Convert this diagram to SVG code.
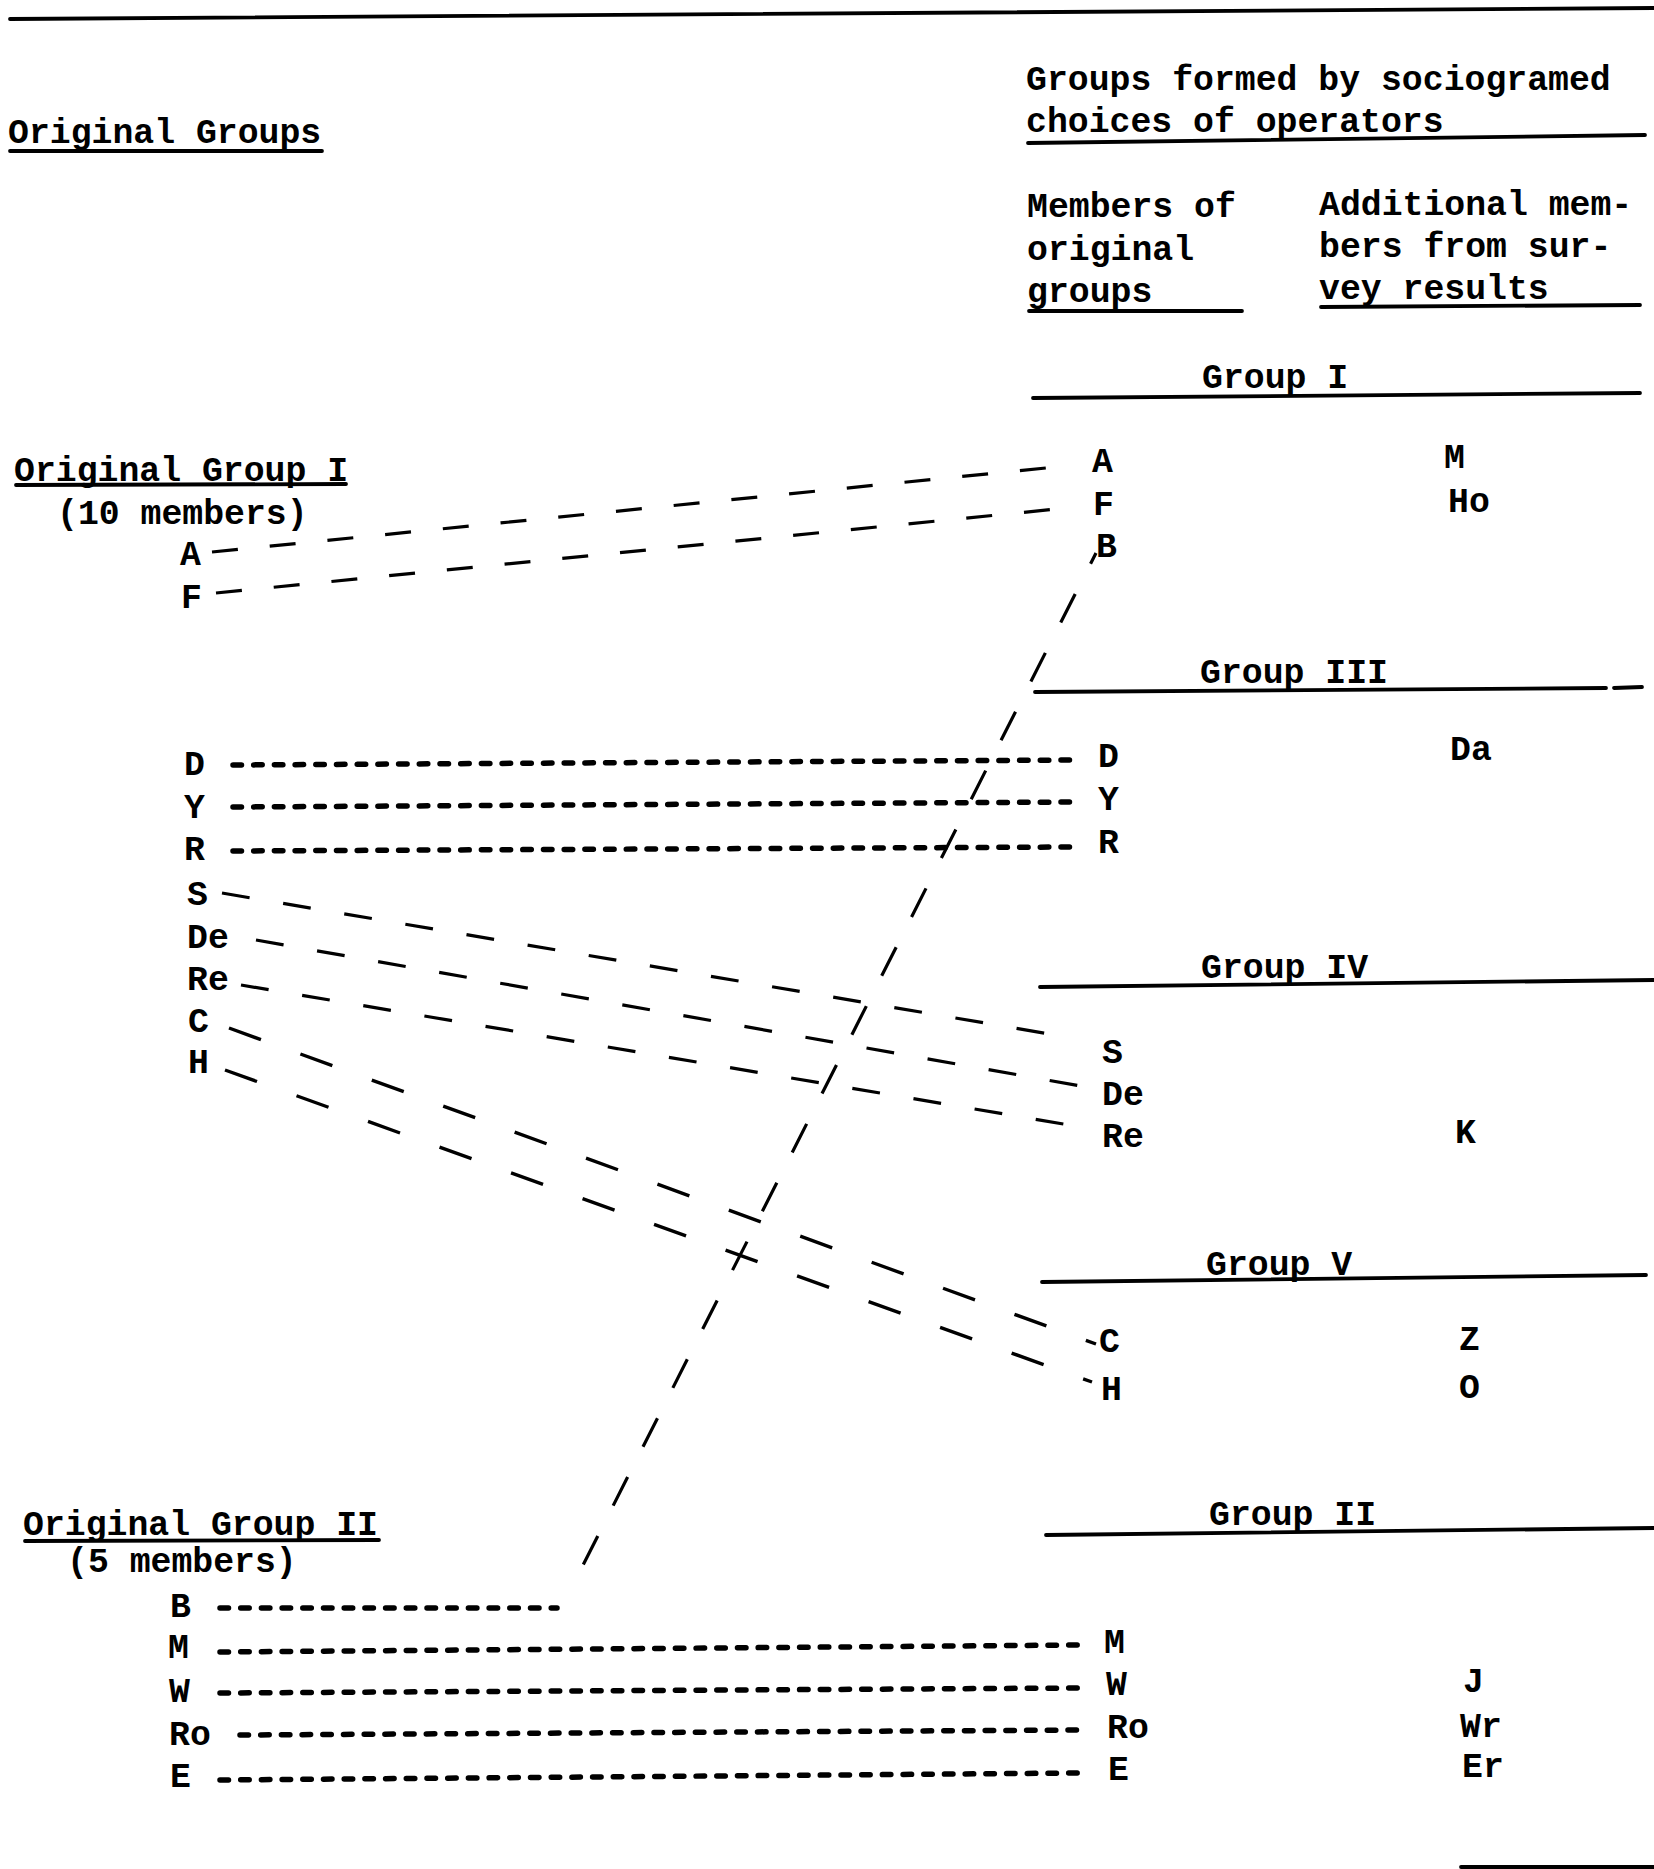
<svg xmlns="http://www.w3.org/2000/svg" width="1654" height="1869" viewBox="0 0 1654 1869">
<style>
text{font-family:"Liberation Mono","Courier New",monospace;font-size:34.8px;font-weight:bold;fill:#000}
.rule{stroke:#000;stroke-width:3.8;fill:none;stroke-linecap:round}
.dense{stroke:#000;stroke-width:5.5;stroke-linecap:round;stroke-dasharray:8.5 12.2;fill:none}
.long{stroke:#000;stroke-width:3.2;stroke-dasharray:26 32;fill:none}
.slant{stroke:#000;stroke-width:3.2;stroke-dasharray:28 34;fill:none}
.steep{stroke:#000;stroke-width:3.4;stroke-dasharray:34 42;fill:none}
.diag{stroke:#000;stroke-width:3.2;stroke-dasharray:32 34;fill:none}
</style>
<rect width="1654" height="1869" fill="#fff"/>
<g id="frame">
<line class="rule" x1="10" y1="19" x2="1654" y2="8" stroke-width="4.5"/>
<line class="rule" x1="1461" y1="1867" x2="1654" y2="1867" stroke-width="3"/>
</g>
<g id="header-left">
<text x="8" y="143">Original Groups</text>
<line class="rule" x1="10" y1="151" x2="322" y2="151"/>
</g>
<g id="header-right">
<text x="1026" y="90">Groups formed by sociogramed</text>
<text x="1026" y="132">choices of operators</text>
<line class="rule" x1="1028" y1="143" x2="1645" y2="135"/>
</g>
<g id="col-members">
<text x="1027" y="217">Members of</text>
<text x="1027" y="260">original</text>
<text x="1027" y="302">groups</text>
<line class="rule" x1="1029" y1="311" x2="1242" y2="311"/>
</g>
<g id="col-additional">
<text x="1319" y="215">Additional mem-</text>
<text x="1319" y="257">bers from sur-</text>
<text x="1319" y="299">vey results</text>
<line class="rule" x1="1321" y1="307" x2="1640" y2="305"/>
</g>
<g id="orig-group-1">
<text x="14" y="481">Original Group I</text>
<line class="rule" x1="16" y1="485" x2="346" y2="484"/>
<text x="57" y="524">(10 members)</text>
</g>
<g id="orig-group-2">
<text x="23" y="1535">Original Group II</text>
<line class="rule" x1="25" y1="1541" x2="379" y2="1540"/>
<text x="67" y="1572">(5 members)</text>
</g>
<g id="left-A"><text x="180" y="565">A</text></g>
<g id="left-F"><text x="181" y="608">F</text></g>
<g id="left-D"><text x="184" y="775">D</text></g>
<g id="left-Y"><text x="184" y="818">Y</text></g>
<g id="left-R"><text x="184" y="860">R</text></g>
<g id="left-S"><text x="187" y="905">S</text></g>
<g id="left-De"><text x="187" y="948">De</text></g>
<g id="left-Re"><text x="187" y="990">Re</text></g>
<g id="left-C"><text x="188" y="1032">C</text></g>
<g id="left-H"><text x="188" y="1073">H</text></g>
<g id="left-B"><text x="170" y="1617">B</text></g>
<g id="left-M"><text x="168" y="1658">M</text></g>
<g id="left-W"><text x="169" y="1702">W</text></g>
<g id="left-Ro"><text x="169" y="1745">Ro</text></g>
<g id="left-E"><text x="170" y="1787">E</text></g>
<g id="group-I">
<text x="1202" y="388">Group I</text>
<line class="rule" x1="1033" y1="398" x2="1640" y2="393"/>
<text x="1092" y="472">A</text>
<text x="1093" y="515">F</text>
<text x="1096" y="557">B</text>
<text x="1444" y="468">M</text>
<text x="1448" y="512">Ho</text>
</g>
<g id="group-III">
<text x="1200" y="683">Group III</text>
<line class="rule" x1="1035" y1="692" x2="1606" y2="688"/>
<line class="rule" x1="1614" y1="688" x2="1642" y2="687"/>
<text x="1098" y="767">D</text>
<text x="1098" y="810">Y</text>
<text x="1098" y="853">R</text>
<text x="1450" y="760">Da</text>
</g>
<g id="group-IV">
<text x="1201" y="978">Group IV</text>
<line class="rule" x1="1040" y1="987" x2="1654" y2="980"/>
<text x="1102" y="1063">S</text>
<text x="1102" y="1105">De</text>
<text x="1102" y="1147">Re</text>
<text x="1455" y="1143">K</text>
</g>
<g id="group-V">
<text x="1206" y="1275">Group V</text>
<line class="rule" x1="1042" y1="1282" x2="1646" y2="1275"/>
<text x="1099" y="1352">C</text>
<text x="1101" y="1400">H</text>
<text x="1459" y="1350">Z</text>
<text x="1459" y="1398">O</text>
</g>
<g id="group-II">
<text x="1209" y="1525">Group II</text>
<line class="rule" x1="1046" y1="1535" x2="1654" y2="1528"/>
<text x="1104" y="1653">M</text>
<text x="1106" y="1695">W</text>
<text x="1107" y="1738">Ro</text>
<text x="1108" y="1780">E</text>
<text x="1463" y="1692">J</text>
<text x="1460" y="1737">Wr</text>
<text x="1462" y="1777">Er</text>
</g>
<g id="connectors">
<line class="long" x1="212" y1="552" x2="1056" y2="467"/>
<line class="long" x1="216" y1="593" x2="1077" y2="507"/>
<line class="dense" x1="233" y1="765" x2="1072" y2="760"/>
<line class="dense" x1="233" y1="807" x2="1072" y2="802"/>
<line class="dense" x1="233" y1="851" x2="1072" y2="847"/>
<line class="slant" x1="222" y1="893" x2="1067" y2="1037"/>
<line class="slant" x1="256" y1="940" x2="1081" y2="1086"/>
<line class="slant" x1="241" y1="985" x2="1075" y2="1126"/>
<line class="steep" x1="229" y1="1028" x2="1096" y2="1344"/>
<line class="steep" x1="225" y1="1070" x2="1092" y2="1382"/>
<line class="dense" x1="220" y1="1608" x2="557" y2="1608"/>
<line class="dense" x1="220" y1="1652" x2="1080" y2="1645"/>
<line class="dense" x1="220" y1="1693" x2="1078" y2="1688"/>
<line class="dense" x1="240" y1="1735" x2="1078" y2="1730"/>
<line class="dense" x1="220" y1="1780" x2="1080" y2="1773"/>
<line class="diag" x1="1096" y1="553" x2="577" y2="1577" stroke-dashoffset="20"/>
</g>
</svg>
